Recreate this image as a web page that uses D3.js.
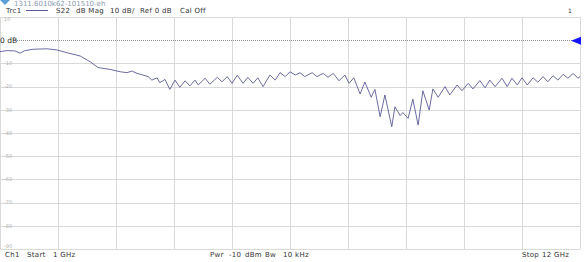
<html>
  <head>
    <script src="https://cdnjs.cloudflare.com/ajax/libs/d3/7.8.5/d3.min.js"></script>
    <style>
    body {
      margin: 0;
      background: white;
    }
    svg {
      display: block;
      font-family: "DejaVu Sans", Verdana, sans-serif;
    }
    .grid line {
      stroke: #d9d9d9;
      stroke-width: 1;
    }
    .info {
      fill: #333;
      font-size: 7px;
      letter-spacing: 0.3px;
    }
    </style>
  </head>
  <body>
    <svg width="586" height="262" id="vna"></svg>

    <script>
    // S22 trace (frequency in GHz, magnitude in dB)
    var freqGHz = [1.00, 1.13, 1.28, 1.38, 1.47, 1.63, 1.89, 2.08, 2.27, 2.52,
                   2.71, 2.86, 3.09, 3.28, 3.41, 3.50, 3.60, 3.71, 3.81, 3.88,
                   3.98, 4.03, 4.13, 4.22, 4.32, 4.41, 4.51, 4.60, 4.70, 4.76,
                   4.89, 4.98, 5.12, 5.21, 5.31, 5.40, 5.50, 5.61, 5.70, 5.80,
                   5.89, 5.99, 6.12, 6.22, 6.31, 6.41, 6.50, 6.60, 6.69, 6.78,
                   6.92, 7.01, 7.13, 7.22, 7.32, 7.43, 7.54, 7.62, 7.71, 7.83,
                   7.92, 8.04, 8.11, 8.21, 8.30, 8.43, 8.49, 8.59, 8.64, 8.74,
                   8.83, 8.93, 9.02, 9.14, 9.21, 9.31, 9.44, 9.53, 9.67, 9.76,
                   9.88, 9.97, 10.10, 10.20, 10.29, 10.39, 10.52, 10.62, 10.71, 10.81,
                   10.90, 11.00, 11.11, 11.20, 11.30, 11.39, 11.49, 11.58, 11.68, 11.77,
                   11.87, 11.96, 12.00];
    var s22dB = [-4.9, -4.5, -4.6, -5.6, -4.5, -3.9, -3.7, -4.2, -5.4, -6.8,
                 -9.3, -11.8, -12.6, -13.6, -14.0, -13.3, -14.3, -15.0, -15.7, -17.2,
                 -16.2, -18.3, -16.9, -21.2, -17.2, -20.3, -17.5, -19.7, -17.2, -19.3,
                 -16.4, -19.0, -16.0, -17.9, -15.7, -18.6, -15.1, -18.6, -16.0, -18.6,
                 -16.2, -20.0, -15.0, -17.2, -14.0, -15.7, -13.6, -15.0, -14.0, -15.7,
                 -14.0, -15.7, -14.3, -16.0, -14.3, -17.5, -15.0, -18.6, -16.2, -23.2,
                 -18.0, -24.6, -21.2, -33.0, -23.6, -37.3, -28.7, -32.5, -31.2, -33.7,
                 -25.4, -36.6, -21.8, -30.1, -21.0, -24.6, -20.0, -23.6, -19.3, -21.8,
                 -18.6, -21.0, -17.4, -20.5, -17.2, -20.0, -16.4, -20.0, -16.4, -19.3,
                 -16.2, -19.3, -16.2, -18.1, -15.7, -17.9, -15.3, -17.2, -14.7, -16.4,
                 -14.3, -16.4, -15.7];

    var xTicks = [1, 2.1, 3.2, 4.3, 5.4, 6.5, 7.6, 8.7, 9.8, 10.9, 12];
    var yTicks = [10, 0, -10, -20, -30, -40, -50, -60, -70, -80, -90];
    var yTickLabels = ['10', '0 dB', '-10', '-20', '-30', '-40', '-50', '-60', '-70', '-80', '-90'];
    var refLevel = 0;

    // instrument annotations: [text, x]
    var headerItems = [['Trc1', 6], ['S22', 56], ['dB Mag', 76], ['10 dB/', 110],
                       ['Ref 0 dB', 140], ['Cal Off', 180]];
    var footerItems = [['Ch1', 5], ['Start', 27], ['1 GHz', 53],
                       ['Pwr', 210], ['-10', 229], ['dBm', 245], ['Bw', 265], ['10 kHz', 283],
                       ['Stop', 522], ['12 GHz', 542]];

    var svg = d3.select('#vna');

    var x = d3.scaleLinear().domain([1, 12]).range([0, 580]);
    var y = d3.scaleLinear().domain([10, -90]).range([17, 249]);

    // grid
    var grid = svg.append('g').attr('class', 'grid');
    grid.selectAll('line.v')
      .data(xTicks)
      .enter()
      .append('line')
      .attr('class', 'v')
      .attr('x1', function(d) { return Math.round(x(d)) + 0.5; })
      .attr('x2', function(d) { return Math.round(x(d)) + 0.5; })
      .attr('y1', y(10))
      .attr('y2', y(-90));
    grid.selectAll('line.h')
      .data(yTicks.filter(function(d) { return d !== refLevel; }))
      .enter()
      .append('line')
      .attr('class', 'h')
      .attr('x1', 0)
      .attr('x2', x(12))
      .attr('y1', function(d) { return Math.round(y(d)) + 0.5; })
      .attr('y2', function(d) { return Math.round(y(d)) + 0.5; });

    // reference line (dotted)
    svg.append('line')
      .attr('x1', 17)
      .attr('x2', x(12))
      .attr('y1', Math.round(y(refLevel)) + 0.5)
      .attr('y2', Math.round(y(refLevel)) + 0.5)
      .attr('stroke', '#777')
      .attr('stroke-width', 0.8)
      .attr('stroke-dasharray', '1,1');

    // y labels sit inside the plot, a touch off the ends so they clear the header/footer
    svg.selectAll('text.ylab')
      .data(yTicks)
      .enter()
      .append('text')
      .attr('class', 'ylab')
      .attr('x', function(d) { return d === refLevel ? 0 : 4; })
      .attr('y', function(d) {
        if (d === 10) return y(d) + 2.5;
        if (d === -90) return y(d) - 2.5;
        return y(d);
      })
      .attr('dy', '0.35em')
      .style('font-size', function(d) { return d === refLevel ? '7.5px' : '5px'; })
      .style('fill', function(d) { return d === refLevel ? '#222' : '#b0b0b0'; })
      .text(function(d, i) { return yTickLabels[i]; });

    // trace
    var line = d3.line()
      .x(function(d, i) { return x(freqGHz[i]); })
      .y(function(d) { return y(d); });

    svg.append('path')
      .datum(s22dB)
      .attr('d', line)
      .attr('fill', 'none')
      .attr('stroke', '#5a5a98')
      .attr('stroke-width', 0.9);

    // reference marker at right edge
    var ry = y(refLevel) + 0.5;
    svg.append('path')
      .attr('d', 'M' + (x(12) + 1) + ',' + (ry - 4) + 'L' + (x(12) - 9) + ',' + ry +
                 'L' + (x(12) + 1) + ',' + (ry + 4) + 'Z')
      .attr('fill', '#1414ff');

    // setup file name, half hidden under the top edge
    svg.append('path')
      .attr('d', 'M0,0L5,5L10,0Z')
      .attr('fill', '#5c9fd6');
    svg.append('text')
      .attr('x', 14)
      .attr('y', 5.5)
      .style('font-size', '7px')
      .style('fill', '#8a9bb0')
      .text('1311.6010k62-101510-eh');

    var header = svg.append('g').attr('class', 'info');
    header.selectAll('text')
      .data(headerItems)
      .enter()
      .append('text')
      .attr('x', function(d) { return d[1]; })
      .attr('y', 13)
      .text(function(d) { return d[0]; });
    header.append('line')
      .attr('x1', 26).attr('x2', 48)
      .attr('y1', 10.5).attr('y2', 10.5)
      .attr('stroke', '#5a5a98')
      .attr('stroke-width', 1);
    header.append('text').attr('x', 568).attr('y', 13).style('font-size', '6px').text('1');

    var footer = svg.append('g').attr('class', 'info');
    footer.selectAll('text')
      .data(footerItems)
      .enter()
      .append('text')
      .attr('x', function(d) { return d[1]; })
      .attr('y', 257)
      .text(function(d) { return d[0]; });
    </script>
  </body>
</html>
